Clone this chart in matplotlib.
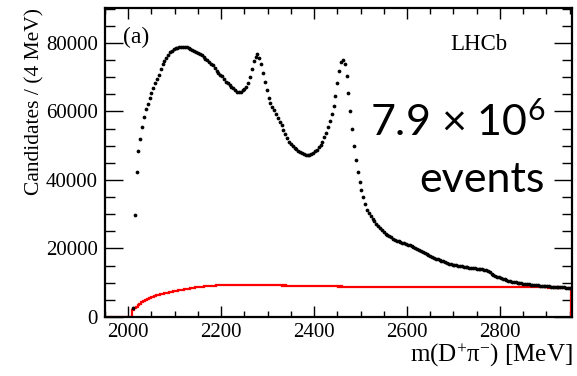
import numpy as np
import matplotlib
matplotlib.use("Agg")
import matplotlib.pyplot as plt
from matplotlib.ticker import MultipleLocator

# bin centres (4 MeV bins, 2008-2952)
mass = np.arange(2010, 2951, 4)

# data points (candidates per 4 MeV)
candidates = [
    2700, 29800, 42400, 48300, 51900, 55400, 58500, 60700, 62200, 64000,
    65400, 66900, 68200, 69500, 70700, 72300, 73800, 74800, 75600, 76500,
    77200, 77700, 78100, 78400, 78600, 78700, 78900, 78900, 78900, 78700,
    78500, 78300, 78000, 77700, 77400, 77100, 76800, 76500, 76000, 75400,
    74900, 74300, 73800, 73500, 72700, 71900, 71200, 70600, 70200, 69400,
    68700, 68200, 67700, 67200, 66800, 66300, 65800, 65600, 65800, 66200,
    66500, 67000, 68300, 70000, 72300, 74600, 76000, 76700, 75500, 73700,
    71300, 68700, 66300, 64000, 62500, 61400, 60300, 59200, 58100, 57000,
    55900, 54700, 53300, 52200, 51200, 50500, 49900, 49300, 48900, 48500,
    48100, 47800, 47600, 47400, 47300, 47400, 47500, 47800, 48300, 48800,
    49500, 50300, 51000, 52400, 53800, 55500, 57300, 59200, 61500, 64500,
    68300, 71800, 74300, 75000, 73800, 70400, 65300, 60200, 54800, 50000,
    45900, 42400, 39500, 37100, 35000, 33000, 31300, 30300, 29400, 28600,
    27900, 27200, 26600, 25900, 25300, 24800, 24300, 23900, 23500, 23200,
    22900, 22600, 22300, 22100, 21900, 21700, 21500, 21300, 21100, 20900,
    20600, 20300, 20100, 19800, 19500, 19300, 19000, 18700, 18400, 18100,
    17800, 17500, 17200, 17000, 16800, 16600, 16400, 16200, 16000, 15800,
    15600, 15500, 15300, 15200, 15100, 15000, 14900, 14800, 14700, 14600,
    14500, 14400, 14300, 14300, 14200, 14100, 14100, 14000, 13900, 13800,
    13700, 13400, 13000, 12600, 12300, 12000, 11800, 11600, 11400, 11200,
    11000, 10800, 10600, 10400, 10300, 10200, 10100, 10000, 9900, 9800,
    9700, 9700, 9600, 9500, 9400, 9300, 9300, 9200, 9200, 9100,
    9100, 9000, 9000, 8900, 8900, 8800, 8800, 8700, 8700, 8700,
    8600, 8600, 8600, 8500, 8500, 8500,
]

# background histogram (red)
background = [
    1900, 2500, 3000, 3500, 3900, 4300, 4600, 4900, 5200, 5500,
    5700, 5900, 6100, 6300, 6400, 6600, 6700, 6900, 7000, 7100,
    7200, 7400, 7500, 7600, 7700, 7800, 7900, 8000, 8100, 8200,
    8300, 8400, 8500, 8550, 8600, 8700, 8750, 8800, 8850, 8900,
    8950, 9000, 9050, 9100, 9150, 9200, 9250, 9300, 9300, 9350,
    9400, 9400, 9450, 9450, 9450, 9400, 9450, 9400, 9350, 9400,
    9350, 9400, 9350, 9300, 9350, 9300, 9300, 9350, 9300, 9300,
    9250, 9300, 9250, 9250, 9300, 9200, 9250, 9200, 9200, 9250,
    9200, 9150, 9200, 9150, 9150, 9100, 9150, 9100, 9100, 9150,
    9100, 9050, 9100, 9050, 9050, 9000, 9050, 9000, 9000, 9050,
    9000, 8950, 9000, 8950, 8950, 8900, 8950, 8900, 8900, 8950,
    8900, 8850, 8900, 8850, 8850, 8800, 8850, 8800, 8850, 8800,
    8800, 8750, 8800, 8800, 8750, 8800, 8750, 8800, 8750, 8750,
    8800, 8750, 8750, 8700, 8750, 8750, 8700, 8750, 8700, 8750,
    8700, 8750, 8700, 8700, 8750, 8700, 8700, 8750, 8700, 8700,
    8750, 8700, 8700, 8650, 8700, 8700, 8650, 8700, 8700, 8650,
    8700, 8650, 8700, 8700, 8650, 8700, 8650, 8650, 8700, 8650,
    8650, 8700, 8650, 8650, 8700, 8650, 8650, 8700, 8650, 8700,
    8700, 8650, 8700, 8700, 8650, 8700, 8700, 8650, 8700, 8700,
    8650, 8700, 8700, 8650, 8700, 8700, 8650, 8700, 8650, 8700,
    8700, 8650, 8700, 8650, 8650, 8700, 8650, 8650, 8700, 8650,
    8650, 8650, 8700, 8650, 8600, 8650, 8650, 8600, 8650, 8600,
    8600, 8650, 8600, 8600, 8550, 8600, 8600, 8550, 8550, 8600,
    8550, 8550, 8500, 8550, 8500, 8500,
]

serif = "Liberation Serif"
plt.rcParams["font.family"] = serif
plt.rcParams["mathtext.default"] = "regular"

fig = plt.figure(figsize=(5.77, 3.76), dpi=100)
ax = fig.add_axes([0.182, 0.157, 0.810, 0.822])

edges = np.concatenate([[1950], mass - 2, [mass[-1] + 2]])
ax.stairs([0] + background, edges, color="#ff0000", linewidth=1.6, zorder=2)
ax.plot(mass, candidates, "o", color="black", markersize=2.7,
        markeredgewidth=0, zorder=3)

ax.set_xlim(1950, 2956)
ax.set_ylim(0, 90200)

ax.xaxis.set_major_locator(MultipleLocator(200))
ax.xaxis.set_minor_locator(MultipleLocator(50))
ax.yaxis.set_major_locator(MultipleLocator(20000))
ax.yaxis.set_minor_locator(MultipleLocator(5000))
ax.tick_params(which="both", direction="in", top=True, right=True,
               labelsize=15, width=1.0)
ax.tick_params(axis="x", which="major", length=8, pad=4)
ax.tick_params(axis="x", which="minor", length=4)
ax.tick_params(axis="y", which="major", length=13, pad=5)
ax.tick_params(axis="y", which="minor", length=7)
for s in ax.spines.values():
    s.set_linewidth(1.6)

ax.set_xlabel(r"m(D$^{+}$π$^{-}$) [MeV]", fontsize=18, loc="right",
              labelpad=0)
ax.set_ylabel("Candidates / (4 MeV)", fontsize=15.5, loc="top", labelpad=1)

ax.text(0.038, 0.905, "(a)", transform=ax.transAxes, fontsize=17,
        ha="left", va="center")
ax.text(0.80, 0.88, "LHCb", transform=ax.transAxes, fontsize=16.5,
        ha="center", va="center")
# big annotation, placed in figure pixels (origin bottom-left)
ax.text(545, 376 - 122, r"7.9 × 10$^{6}$", transform=None, fontsize=31,
        family="Lato", ha="right", va="center")
ax.text(545, 376 - 180, "events", transform=None, fontsize=31,
        family="Lato", ha="right", va="center")

fig.savefig("out.png", dpi=100)
